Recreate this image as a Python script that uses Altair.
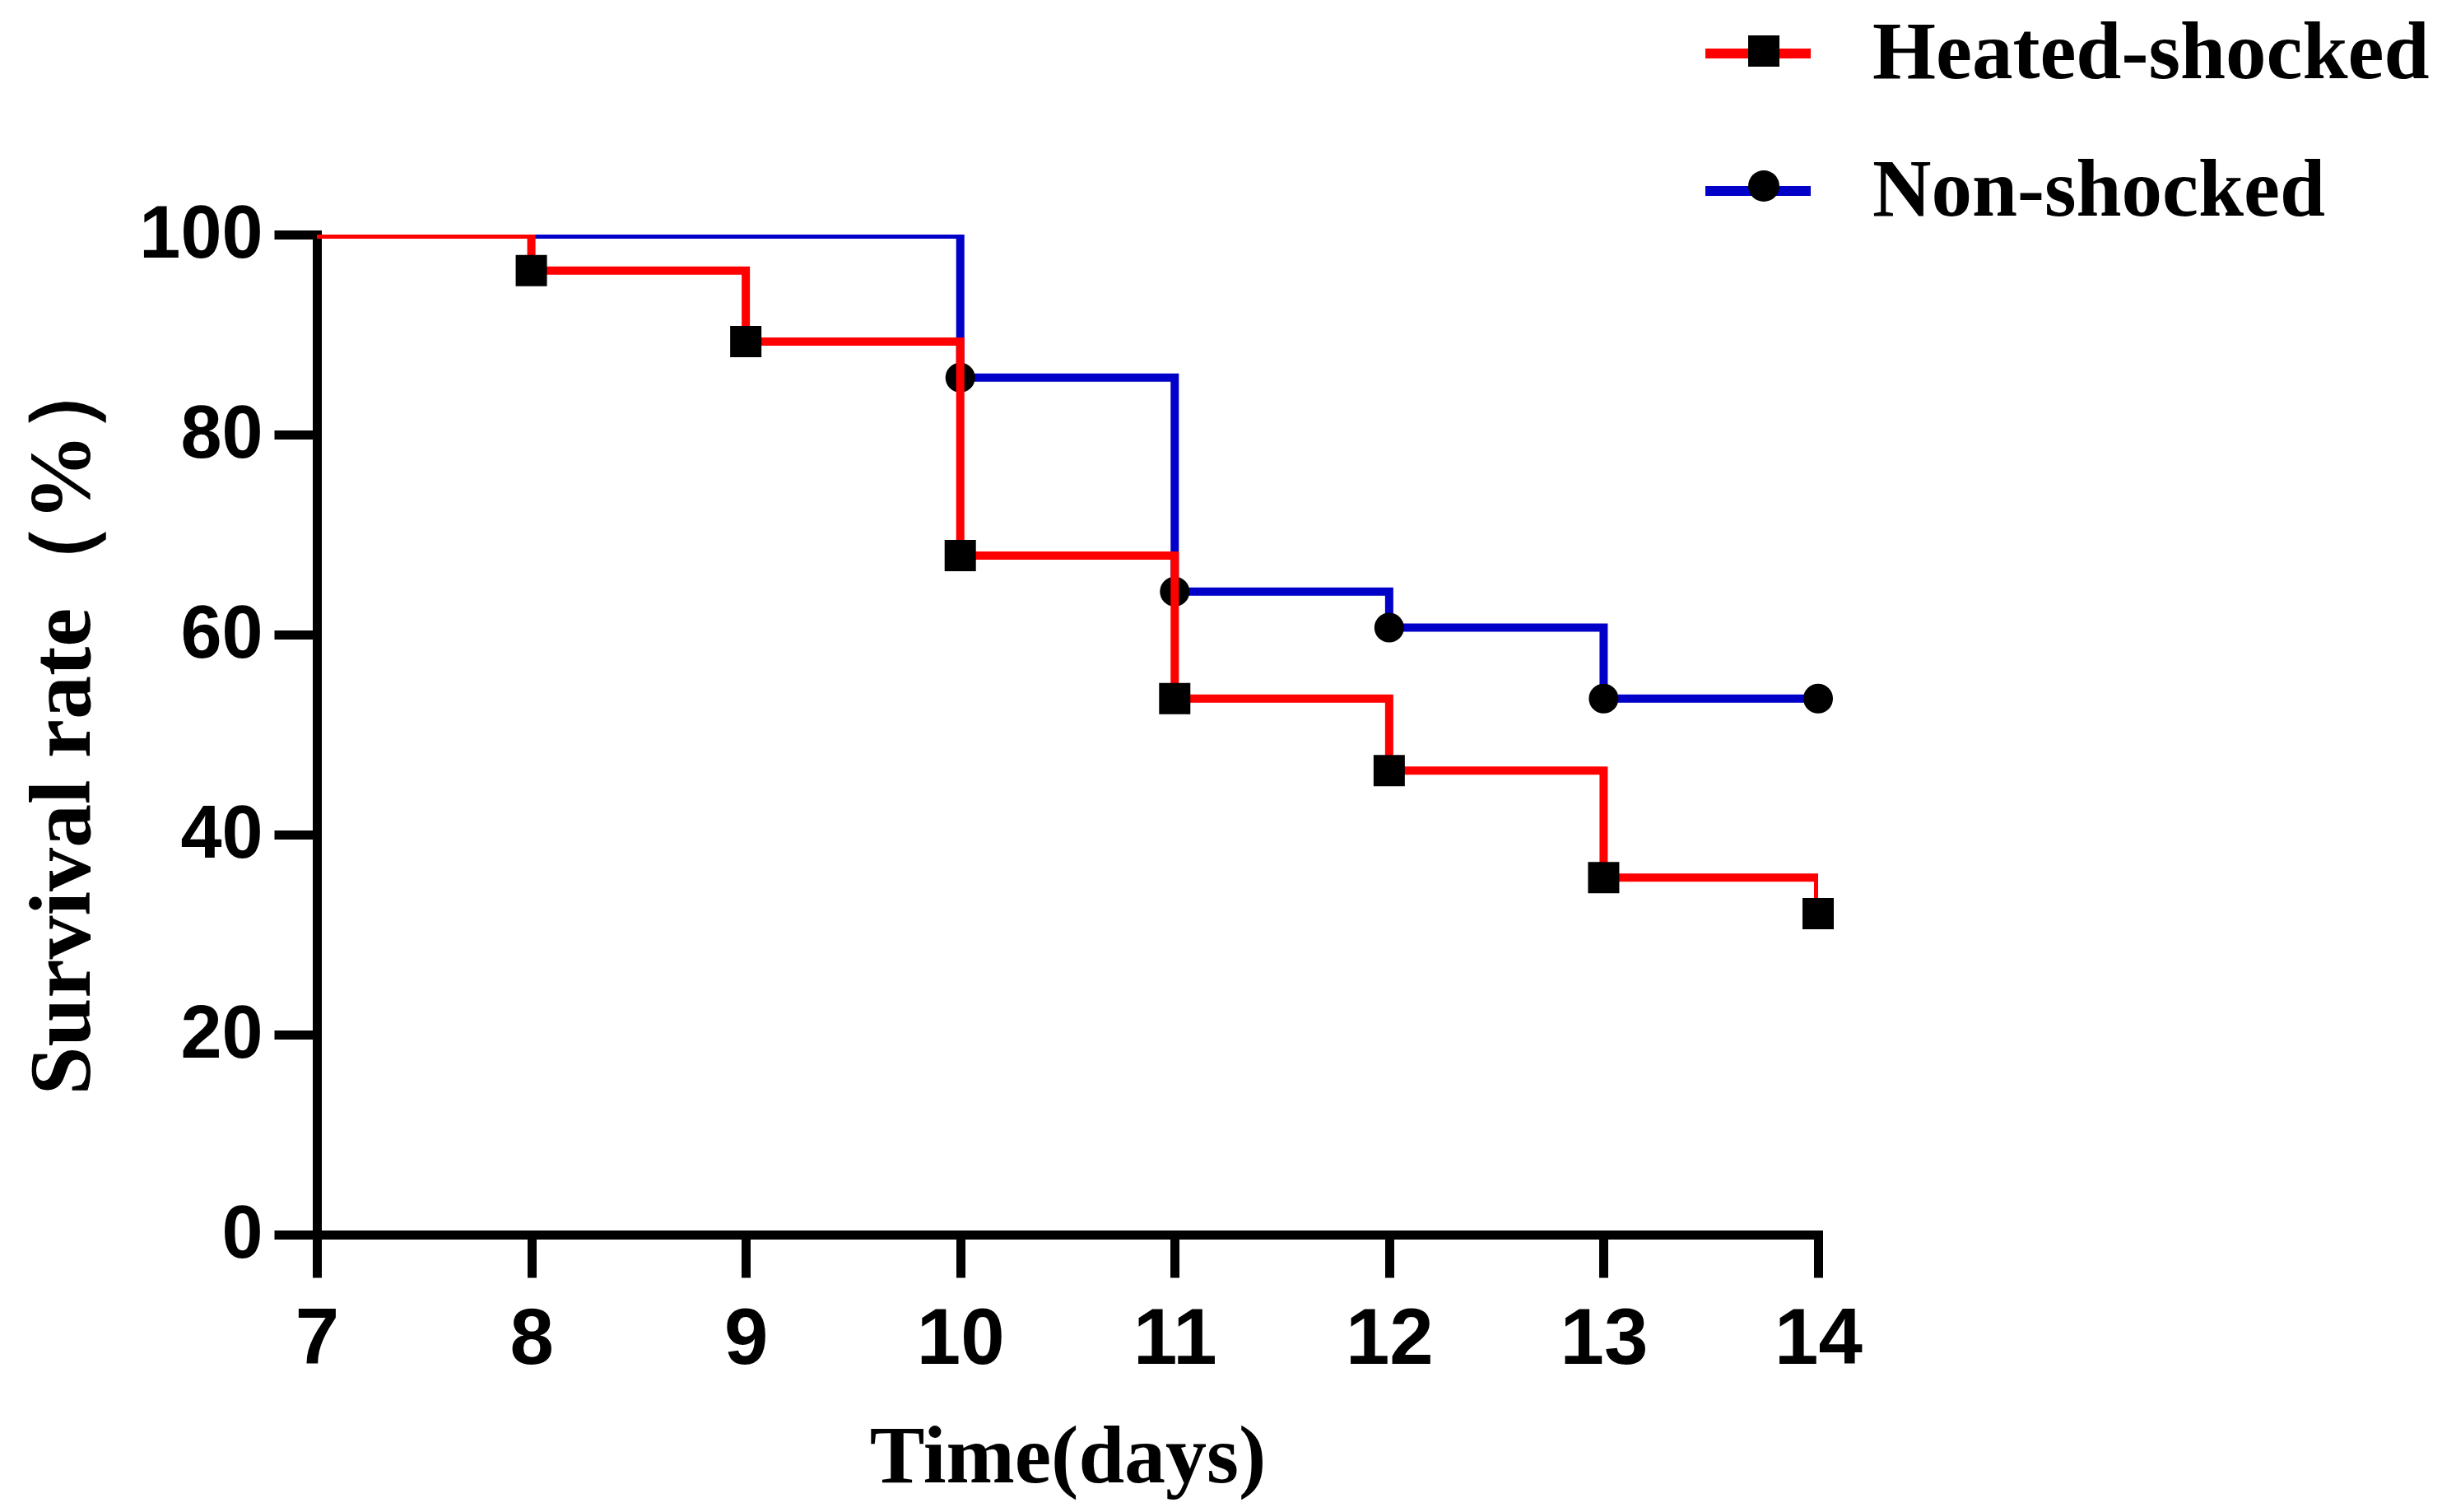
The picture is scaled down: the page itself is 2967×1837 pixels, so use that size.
import altair as alt
import pandas as pd

# ---- data ----
groups = ["Heated-shocked", "Non-shocked"]
colors = ["#FF0000", "#0000C8"]

days_heated = [7, 8, 9, 10, 11, 12, 13, 14]
surv_heated = [100, 96.4, 89.3, 67.9, 53.6, 46.4, 35.7, 32.1]
mark_heated = [False, True, True, True, True, True, True, True]

days_non = [7, 10, 11, 12, 13, 14]
surv_non = [100, 85.7, 64.3, 60.7, 53.6, 53.6]
mark_non = [False, True, True, True, True, True]

x_ticks = [7, 8, 9, 10, 11, 12, 13, 14]
y_ticks = [0, 20, 40, 60, 80, 100]

df_heat = pd.DataFrame({"day": days_heated, "surv": surv_heated, "marker": mark_heated,
                        "group": groups[0], "series": groups[0]})
df_non = pd.DataFrame({"day": days_non, "surv": surv_non, "marker": mark_non,
                       "group": groups[1], "series": groups[1]})

SERIF = "Liberation Serif"
SANS = "Liberation Sans"

x_enc = alt.X("day:Q",
              scale=alt.Scale(domain=[7, 14], nice=False, zero=False),
              axis=alt.Axis(values=x_ticks, format="d", title="Time(days)",
                            titleX=912, titleY=300, titleAlign="center",
                            titleBaseline="alphabetic", titleAngle=0, titleFontSize=100,
                            tickSize=52, labelPadding=28, labelFontSize=96,
                            labelFlush=False))
y_enc = alt.Y("surv:Q",
              scale=alt.Scale(domain=[0, 100], nice=False),
              axis=alt.Axis(values=y_ticks, title="Survival rate（%）",
                            titleX=-277, titleY=590, titleAlign="center",
                            titleBaseline="alphabetic", titleAngle=270, titleFontSize=106,
                            tickSize=52, labelPadding=14, labelFontSize=90,
                            labelFlush=False))

color_enc = alt.Color("group:N",
                      scale=alt.Scale(domain=groups, range=colors),
                      legend=alt.Legend(title=None, orient="none", legendX=1681, legendY=-290,
                                        direction="vertical", padding=0, rowPadding=47,
                                        symbolType="stroke", symbolSize=16384,
                                        symbolStrokeWidth=12, labelOffset=69,
                                        labelFont=SERIF, labelFontWeight="bold",
                                        labelFontSize=99, labelColor="black", labelLimit=0))
shape_enc = alt.Shape("series:N",
                      scale=alt.Scale(range=["square", "circle"]),
                      legend=alt.Legend(title=None, orient="none", legendX=1739, legendY=-242,
                                        direction="vertical", padding=0, rowPadding=126,
                                        symbolSize=1444, symbolFillColor="black",
                                        symbolStrokeColor="black", symbolStrokeWidth=0,
                                        symbolOpacity=1, labelOffset=0,
                                        labelExpr="''", labelFontSize=1, labelOpacity=0,
                                        labelLimit=1))

line_non = alt.Chart(df_non).mark_line(interpolate="step-after", strokeWidth=10, clip=True).encode(
    x=x_enc, y=y_enc, color=color_enc)
pts_non = alt.Chart(df_non[df_non["marker"]]).mark_point(filled=True, color="black", opacity=1,
                                                         size=1300, strokeWidth=0).encode(
    x=x_enc, y=y_enc, shape=shape_enc)
line_heat = alt.Chart(df_heat).mark_line(interpolate="step-after", strokeWidth=10, clip=True).encode(
    x=x_enc, y=y_enc, color=color_enc)
pts_heat = alt.Chart(df_heat[df_heat["marker"]]).mark_point(filled=True, color="black", opacity=1,
                                                            size=1444, strokeWidth=0).encode(
    x=x_enc, y=y_enc, shape=shape_enc)

chart = alt.layer(line_non, pts_non, line_heat, pts_heat).properties(
    width=1824, height=1215,
    autosize=alt.AutoSizeParams(type="none"),
    padding={"left": 377, "top": 277, "right": 749, "bottom": 327},
    background="white",
).configure_view(stroke=None).configure_axis(
    grid=False,
    domainColor="black", domainWidth=11, domainCap="square",
    tickColor="black", tickWidth=11,
    labelFont=SANS, labelFontWeight="bold", labelColor="black",
    titleFont=SERIF, titleFontWeight="bold", titleColor="black",
)

chart.save("out.html", embed_options={"renderer": "svg", "actions": False})
